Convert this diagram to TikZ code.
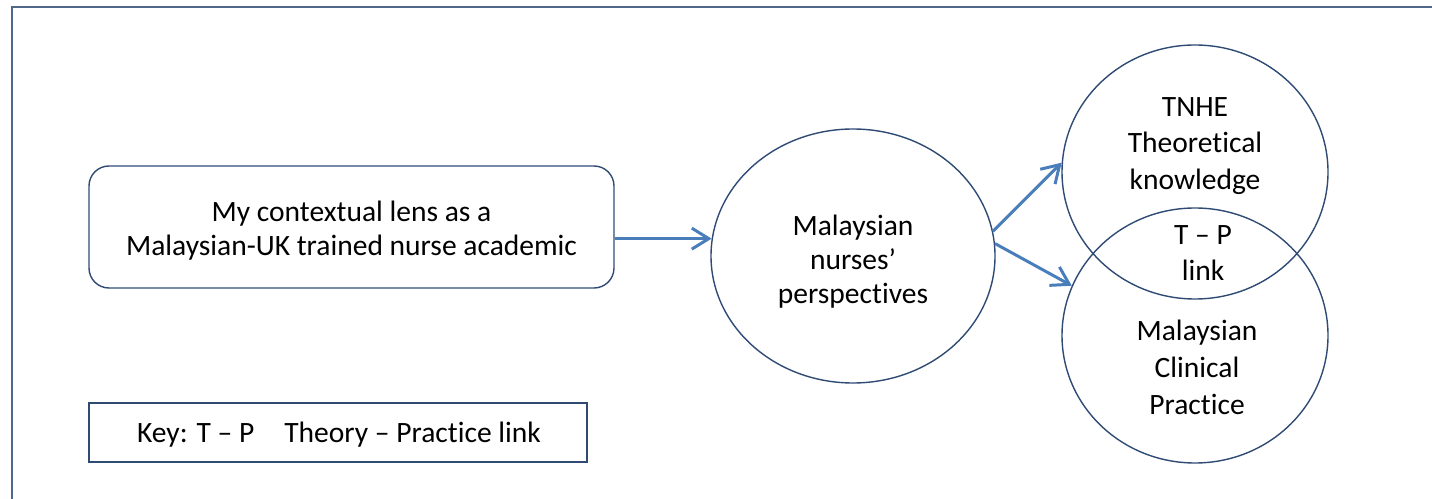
\documentclass[tikz,border=0pt]{standalone}
\usepackage{fontspec}
\setmainfont{Carlito}[Ligatures={TeX,NoCommon}]
\usetikzlibrary{arrows.meta,shapes.geometric}
\definecolor{edgenavy}{HTML}{2F4B74}
\definecolor{arrowblue}{HTML}{4A7EBB}
\definecolor{framegrey}{HTML}{50678A}

\begin{document}
\begin{tikzpicture}[
  outline/.style={draw=edgenavy, line width=0.8pt},
  bubble/.style={outline, ellipse, inner sep=0pt},
  flow/.style={draw=arrowblue, line width=1.7pt, -{Straight Barb[length=3.4mm, width=4.2mm]}},
  caption/.style={font=\fontsize{16.8}{19.3}\selectfont, align=center, inner sep=0pt},
  roomy/.style={caption, font=\fontsize{16.8}{21}\selectfont}
]
\useasboundingbox (0,0) rectangle (28.64,9.96);
\clip (0,0) rectangle (28.64,9.96);

% Page frame, only its top and left edges show
\draw[framegrey, line width=1.2pt] (0.24,-1) -- (0.24,9.82) -- (30,9.82);

% Starting box: the researcher's lens
\node[outline, rounded corners=0.4cm, minimum width=10.5cm, minimum height=2.44cm] (lens) at (7.03,5.42) {};
\node[caption] (lenstext) at (7.03,5.34)
  {My contextual lens as a\\Malaysian-UK trained nurse academic};

% Key box
\node[outline, minimum width=9.96cm, minimum height=1.18cm] (key) at (6.76,1.31) {};
\node[caption] (keytext) at (6.78,1.27) {Key: T – P\hspace{0.6cm}Theory – Practice link};

% Nurses' perspectives
\node[bubble, minimum width=5.68cm, minimum height=5.08cm] (nurses) at (17.06,4.84) {};
\node[caption] (nursestext) at (17.06,4.72) {Malaysian\\nurses’\\perspectives};

% Theory and practice, overlapping
\node[bubble, minimum width=5.32cm, minimum height=5.08cm] (theory) at (23.9,6.52) {};
\node[bubble, minimum width=5.32cm, minimum height=5.10cm] (practice) at (23.9,3.25) {};
\node[roomy] (theorytext) at (23.9,7.04) {TNHE\\Theoretical\\knowledge};
\node[roomy] (linktext) at (24.06,4.9) {T – P\\link};
\node[roomy] (practicetext) at (23.94,2.62) {Malaysian\\Clinical\\Practice};

% Arrows
\draw[flow] (lens.east |- nurses.173) -- (nurses.173);
\draw[flow] (nurses.10) -- (theory.176);
\draw[flow] (nurses.5) -- (practice.158);

\end{tikzpicture}
\end{document}
